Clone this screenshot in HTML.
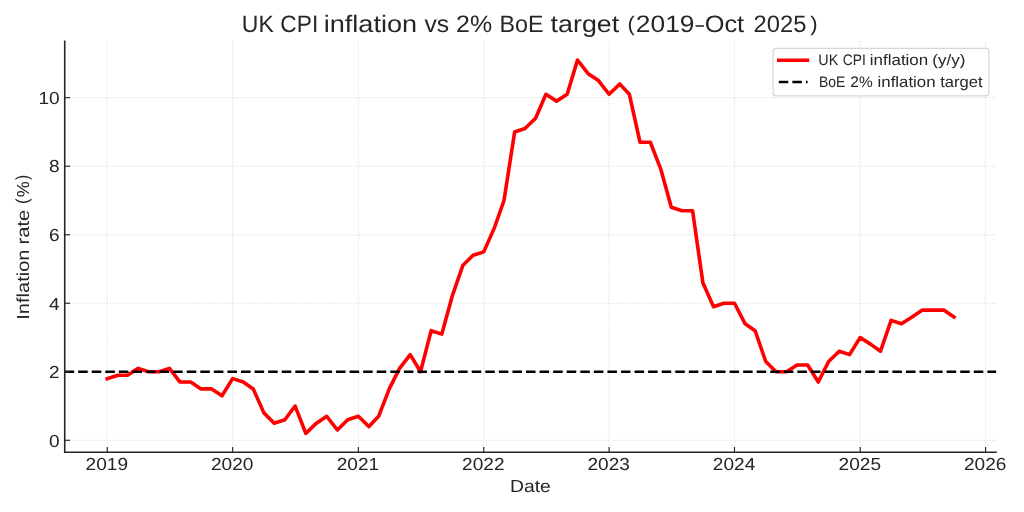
<!DOCTYPE html>
<html><head><meta charset="utf-8"><title>UK CPI inflation vs 2% BoE target</title>
<style>html,body{margin:0;padding:0;background:#fff;}body{width:1024px;height:512px;overflow:hidden;}svg{display:block;will-change:transform;}text{text-rendering:geometricPrecision;font-family:"Liberation Sans",sans-serif;fill:#262626;font-kerning:none;white-space:pre;}</style></head><body>
<svg width="1024" height="512" viewBox="0 0 1024 512">
<rect x="0" y="0" width="1024" height="512" fill="#ffffff"/>
<g stroke="#d5d5d5" stroke-width="1" stroke-dasharray="1 1.65" fill="none">
<line x1="107.25" y1="41.80" x2="107.25" y2="452.20"/>
<line x1="232.63" y1="41.80" x2="232.63" y2="452.20"/>
<line x1="358.35" y1="41.80" x2="358.35" y2="452.20"/>
<line x1="483.73" y1="41.80" x2="483.73" y2="452.20"/>
<line x1="609.10" y1="41.80" x2="609.10" y2="452.20"/>
<line x1="734.48" y1="41.80" x2="734.48" y2="452.20"/>
<line x1="860.20" y1="41.80" x2="860.20" y2="452.20"/>
<line x1="985.58" y1="41.80" x2="985.58" y2="452.20"/>
<line x1="64.73" y1="440.30" x2="996.00" y2="440.30"/>
<line x1="64.73" y1="371.78" x2="996.00" y2="371.78"/>
<line x1="64.73" y1="303.26" x2="996.00" y2="303.26"/>
<line x1="64.73" y1="234.74" x2="996.00" y2="234.74"/>
<line x1="64.73" y1="166.22" x2="996.00" y2="166.22"/>
<line x1="64.73" y1="97.70" x2="996.00" y2="97.70"/>
</g>
<polyline points="107.25,378.63 117.90,375.21 127.52,375.21 138.16,368.35 148.47,371.78 159.12,371.78 169.42,368.35 180.07,382.06 190.72,382.06 201.03,388.91 211.67,388.91 221.98,395.76 232.63,378.63 243.28,382.06 253.24,388.91 263.89,412.89 274.19,423.17 284.84,419.74 295.14,406.04 305.79,433.45 316.44,423.17 326.75,416.32 337.39,430.02 347.70,419.74 358.35,416.32 369.00,426.60 378.62,416.32 389.26,388.91 399.57,368.35 410.22,354.65 420.52,371.78 431.17,330.67 441.82,334.09 452.12,296.41 462.77,265.57 473.08,255.30 483.73,251.87 494.37,227.89 503.99,200.48 514.64,131.96 524.95,128.53 535.59,118.26 545.90,94.27 556.55,101.13 567.20,94.27 577.50,60.01 588.15,73.72 598.46,80.57 609.10,94.27 619.75,84.00 629.37,94.27 640.02,142.24 650.32,142.24 660.97,169.65 671.28,207.33 681.93,210.76 692.57,210.76 702.88,282.70 713.53,306.69 723.83,303.26 734.48,303.26 745.13,323.82 755.09,330.67 765.74,361.50 776.04,371.78 786.69,371.78 797.00,364.93 807.65,364.93 818.30,382.06 828.60,361.50 839.25,351.22 849.55,354.65 860.20,337.52 870.85,344.37 880.47,351.22 891.12,320.39 901.42,323.82 912.07,316.96 922.38,310.11 933.02,310.11 943.67,310.11 953.98,316.96" fill="none" stroke="#ff0000" stroke-width="3.6" stroke-linejoin="round" stroke-linecap="square"/>
<line x1="64.63" y1="371.78" x2="996.15" y2="371.78" stroke="#000000" stroke-width="2.5" stroke-dasharray="9.5 4.07"/>
<g stroke="#262626" stroke-width="1.6" fill="none">
<line x1="64.73" y1="40.50" x2="64.73" y2="453.00"/>
<line x1="63.93" y1="452.20" x2="996.80" y2="452.20"/>
</g>
<g stroke="#262626" stroke-width="1.15" fill="none">
<line x1="107.25" y1="452.20" x2="107.25" y2="447.00"/>
<line x1="232.63" y1="452.20" x2="232.63" y2="447.00"/>
<line x1="358.35" y1="452.20" x2="358.35" y2="447.00"/>
<line x1="483.73" y1="452.20" x2="483.73" y2="447.00"/>
<line x1="609.10" y1="452.20" x2="609.10" y2="447.00"/>
<line x1="734.48" y1="452.20" x2="734.48" y2="447.00"/>
<line x1="860.20" y1="452.20" x2="860.20" y2="447.00"/>
<line x1="985.58" y1="452.20" x2="985.58" y2="447.00"/>
<line x1="64.73" y1="440.30" x2="70.03" y2="440.30"/>
<line x1="64.73" y1="371.78" x2="70.03" y2="371.78"/>
<line x1="64.73" y1="303.26" x2="70.03" y2="303.26"/>
<line x1="64.73" y1="234.74" x2="70.03" y2="234.74"/>
<line x1="64.73" y1="166.22" x2="70.03" y2="166.22"/>
<line x1="64.73" y1="97.70" x2="70.03" y2="97.70"/>
</g>
<text x="241.83" y="32.00" font-size="23.8" textLength="31.93" lengthAdjust="spacingAndGlyphs">UK</text>
<text x="280.35" y="32.00" font-size="23.8" textLength="37.85" lengthAdjust="spacingAndGlyphs">CPI</text>
<text x="323.69" y="32.00" font-size="23.8" textLength="93.37" lengthAdjust="spacingAndGlyphs">inflation</text>
<text x="424.42" y="32.00" font-size="23.8" textLength="24.68" lengthAdjust="spacingAndGlyphs">vs</text>
<text x="456.05" y="32.00" font-size="23.8" textLength="36.04" lengthAdjust="spacingAndGlyphs">2%</text>
<text x="499.59" y="32.00" font-size="23.8" textLength="44.01" lengthAdjust="spacingAndGlyphs">BoE</text>
<text x="550.59" y="32.00" font-size="23.8" textLength="68.60" lengthAdjust="spacingAndGlyphs">target</text>
<text x="627.44" y="31.00" font-size="21.0" textLength="7.28" lengthAdjust="spacingAndGlyphs">(</text>
<text x="635.88" y="32.00" font-size="23.8" textLength="58.57" lengthAdjust="spacingAndGlyphs">2019</text>
<text x="695.40" y="32.00" font-size="23.8" textLength="8.41" lengthAdjust="spacingAndGlyphs">–</text>
<text x="704.70" y="32.00" font-size="23.8" textLength="39.49" lengthAdjust="spacingAndGlyphs">Oct</text>
<text x="753.60" y="32.00" font-size="23.8" textLength="52.89" lengthAdjust="spacingAndGlyphs">2025</text>
<text x="810.27" y="31.00" font-size="21.0" textLength="7.41" lengthAdjust="spacingAndGlyphs">)</text>
<text x="85.61" y="470.00" font-size="17.4" textLength="42.48" lengthAdjust="spacingAndGlyphs">2019</text>
<text x="210.99" y="470.00" font-size="17.4" textLength="42.48" lengthAdjust="spacingAndGlyphs">2020</text>
<text x="336.71" y="470.00" font-size="17.4" textLength="42.48" lengthAdjust="spacingAndGlyphs">2021</text>
<text x="462.09" y="470.00" font-size="17.4" textLength="42.48" lengthAdjust="spacingAndGlyphs">2022</text>
<text x="587.46" y="470.00" font-size="17.4" textLength="42.48" lengthAdjust="spacingAndGlyphs">2023</text>
<text x="712.84" y="470.00" font-size="17.4" textLength="42.48" lengthAdjust="spacingAndGlyphs">2024</text>
<text x="838.56" y="470.00" font-size="17.4" textLength="42.48" lengthAdjust="spacingAndGlyphs">2025</text>
<text x="963.94" y="470.00" font-size="17.4" textLength="42.48" lengthAdjust="spacingAndGlyphs">2026</text>
<text x="49.08" y="447.00" font-size="17.4" textLength="10.62" lengthAdjust="spacingAndGlyphs">0</text>
<text x="49.08" y="378.00" font-size="17.4" textLength="10.62" lengthAdjust="spacingAndGlyphs">2</text>
<text x="49.08" y="310.00" font-size="17.4" textLength="10.62" lengthAdjust="spacingAndGlyphs">4</text>
<text x="49.08" y="241.00" font-size="17.4" textLength="10.62" lengthAdjust="spacingAndGlyphs">6</text>
<text x="49.08" y="172.00" font-size="17.4" textLength="10.62" lengthAdjust="spacingAndGlyphs">8</text>
<text x="38.46" y="104.00" font-size="17.4" textLength="21.24" lengthAdjust="spacingAndGlyphs">10</text>
<text x="510.02" y="492.00" font-size="17.4" textLength="40.74" lengthAdjust="spacingAndGlyphs">Date</text>
<g transform="translate(29.0,0) rotate(-90)">
<text x="-319.75" y="0.00" font-size="17.4" textLength="70.25" lengthAdjust="spacingAndGlyphs">Inflation</text>
<text x="-244.54" y="0.00" font-size="17.4" textLength="34.84" lengthAdjust="spacingAndGlyphs">rate</text>
<text x="-204.03" y="-1.30" font-size="17.4" textLength="5.53" lengthAdjust="spacingAndGlyphs">(</text>
<text x="-197.24" y="0.00" font-size="17.4" textLength="15.98" lengthAdjust="spacingAndGlyphs">%</text>
<text x="-179.89" y="-1.30" font-size="17.4" textLength="5.15" lengthAdjust="spacingAndGlyphs">)</text>
</g>
<rect x="773.1" y="48.4" width="215.8" height="47.4" rx="3" ry="3" fill="#ffffff" fill-opacity="0.8" stroke="#d6d6d6" stroke-width="1.2"/>
<line x1="778.8" y1="60.2" x2="807.4" y2="60.2" stroke="#ff0000" stroke-width="3.6" stroke-linecap="square"/>
<line x1="778.8" y1="82.0" x2="807.6" y2="82.0" stroke="#000000" stroke-width="2.5" stroke-dasharray="9.47 4.09"/>
<text x="818.29" y="65.00" font-size="15.3" textLength="19.97" lengthAdjust="spacingAndGlyphs">UK</text>
<text x="842.80" y="65.00" font-size="15.3" textLength="23.08" lengthAdjust="spacingAndGlyphs">CPI</text>
<text x="869.87" y="65.00" font-size="15.3" textLength="58.33" lengthAdjust="spacingAndGlyphs">inflation</text>
<text x="932.35" y="65.00" font-size="15.3" textLength="33.01" lengthAdjust="spacingAndGlyphs">(y/y)</text>
<text x="818.95" y="87.00" font-size="15.3" textLength="26.45" lengthAdjust="spacingAndGlyphs">BoE</text>
<text x="850.32" y="87.00" font-size="15.3" textLength="22.33" lengthAdjust="spacingAndGlyphs">2%</text>
<text x="877.58" y="87.00" font-size="15.3" textLength="57.92" lengthAdjust="spacingAndGlyphs">inflation</text>
<text x="940.15" y="87.00" font-size="15.3" textLength="42.37" lengthAdjust="spacingAndGlyphs">target</text>
</svg></body></html>
